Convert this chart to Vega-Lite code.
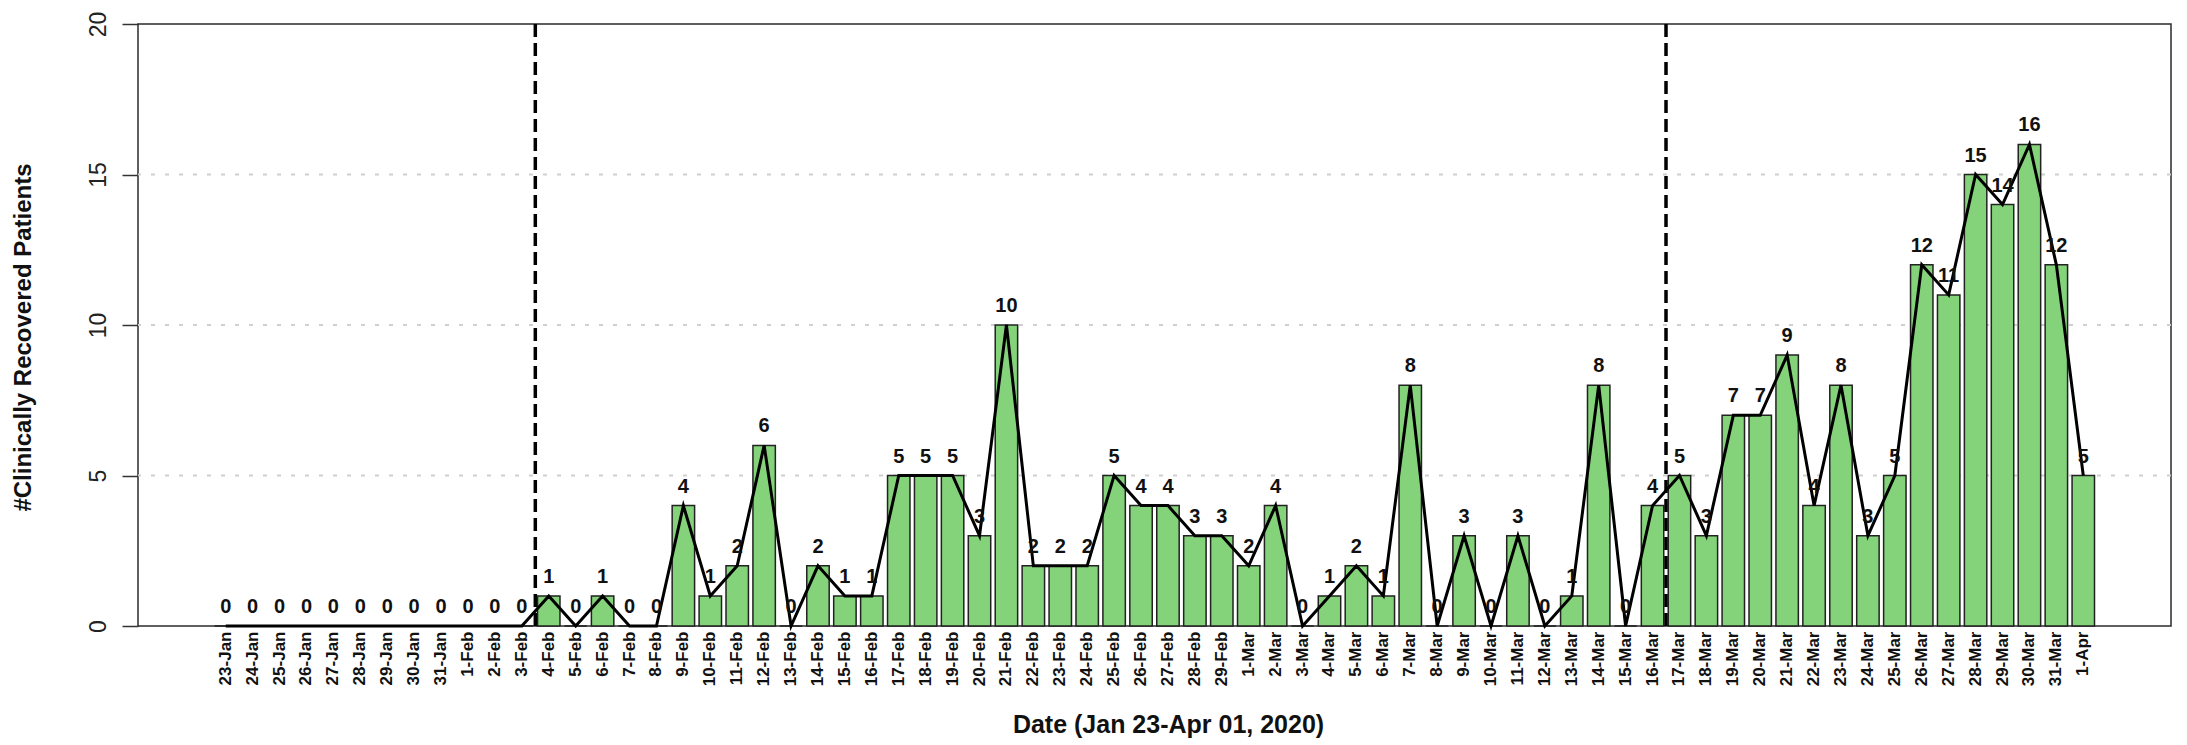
{
  "$schema": "https://vega.github.io/schema/vega-lite/v6.json",
  "autosize": "none",
  "padding": {"left": 138, "top": 24, "right": 16, "bottom": 119},
  "width": 2033,
  "height": 602,
  "background": "white",
  "config": {
    "font": "Liberation Sans",
    "view": {"stroke": "#2b2b2b", "strokeWidth": 1.5}
  },
  "datasets": {
    "recovered": [
      {"date": "23-Jan", "value": 0}, {"date": "24-Jan", "value": 0}, {"date": "25-Jan", "value": 0},
      {"date": "26-Jan", "value": 0}, {"date": "27-Jan", "value": 0}, {"date": "28-Jan", "value": 0},
      {"date": "29-Jan", "value": 0}, {"date": "30-Jan", "value": 0}, {"date": "31-Jan", "value": 0},
      {"date": "1-Feb", "value": 0}, {"date": "2-Feb", "value": 0}, {"date": "3-Feb", "value": 0},
      {"date": "4-Feb", "value": 1}, {"date": "5-Feb", "value": 0}, {"date": "6-Feb", "value": 1},
      {"date": "7-Feb", "value": 0}, {"date": "8-Feb", "value": 0}, {"date": "9-Feb", "value": 4},
      {"date": "10-Feb", "value": 1}, {"date": "11-Feb", "value": 2}, {"date": "12-Feb", "value": 6},
      {"date": "13-Feb", "value": 0}, {"date": "14-Feb", "value": 2}, {"date": "15-Feb", "value": 1},
      {"date": "16-Feb", "value": 1}, {"date": "17-Feb", "value": 5}, {"date": "18-Feb", "value": 5},
      {"date": "19-Feb", "value": 5}, {"date": "20-Feb", "value": 3}, {"date": "21-Feb", "value": 10},
      {"date": "22-Feb", "value": 2}, {"date": "23-Feb", "value": 2}, {"date": "24-Feb", "value": 2},
      {"date": "25-Feb", "value": 5}, {"date": "26-Feb", "value": 4}, {"date": "27-Feb", "value": 4},
      {"date": "28-Feb", "value": 3}, {"date": "29-Feb", "value": 3}, {"date": "1-Mar", "value": 2},
      {"date": "2-Mar", "value": 4}, {"date": "3-Mar", "value": 0}, {"date": "4-Mar", "value": 1},
      {"date": "5-Mar", "value": 2}, {"date": "6-Mar", "value": 1}, {"date": "7-Mar", "value": 8},
      {"date": "8-Mar", "value": 0}, {"date": "9-Mar", "value": 3}, {"date": "10-Mar", "value": 0},
      {"date": "11-Mar", "value": 3}, {"date": "12-Mar", "value": 0}, {"date": "13-Mar", "value": 1},
      {"date": "14-Mar", "value": 8}, {"date": "15-Mar", "value": 0}, {"date": "16-Mar", "value": 4},
      {"date": "17-Mar", "value": 5}, {"date": "18-Mar", "value": 3}, {"date": "19-Mar", "value": 7},
      {"date": "20-Mar", "value": 7}, {"date": "21-Mar", "value": 9}, {"date": "22-Mar", "value": 4},
      {"date": "23-Mar", "value": 8}, {"date": "24-Mar", "value": 3}, {"date": "25-Mar", "value": 5},
      {"date": "26-Mar", "value": 12}, {"date": "27-Mar", "value": 11}, {"date": "28-Mar", "value": 15},
      {"date": "29-Mar", "value": 14}, {"date": "30-Mar", "value": 16}, {"date": "31-Mar", "value": 12},
      {"date": "1-Apr", "value": 5}
    ],
    "gridlines": [{"level": 5}, {"level": 10}, {"level": 15}]
  },
  "layer": [
    {
      "data": {"name": "gridlines"},
      "mark": {"type": "rule", "color": "#cfcfcf", "strokeWidth": 2, "strokeDash": [4, 10]},
      "encoding": {
        "y": {"field": "level", "type": "quantitative"}
      }
    },
    {
      "data": {"name": "recovered"},
      "mark": {"type": "bar", "fill": "#84D27A", "stroke": "#222222", "strokeWidth": 1.5},
      "encoding": {
        "x": {
          "field": "date",
          "type": "nominal",
          "sort": null,
          "scale": {"paddingInner": 0.1667, "paddingOuter": 0, "range": [76.5, 1956.5]},
          "axis": {
            "title": "Date (Jan 23-Apr 01, 2020)",
            "labelAngle": -90,
            "labelAlign": "right",
            "labelBaseline": "middle",
            "labelFontSize": 17,
            "labelFontWeight": "bold",
            "labelColor": "#111111",
            "labelPadding": 5,
            "labelOverlap": false,
            "ticks": false,
            "domain": false,
            "grid": false,
            "titleFontSize": 25,
            "titleFontWeight": "bold",
            "titleColor": "#111111",
            "titleX": 1030,
            "titleY": 106,
            "titleAlign": "center",
            "titleBaseline": "alphabetic"
          }
        },
        "y": {
          "field": "value",
          "type": "quantitative",
          "scale": {"domain": [0, 20], "nice": false},
          "axis": {
            "title": "#Clinically Recovered Patients",
            "values": [0, 5, 10, 15, 20],
            "labelAngle": -90,
            "labelAlign": "center",
            "labelBaseline": "alphabetic",
            "labelFontSize": 23,
            "labelColor": "#222222",
            "labelPadding": 16.5,
            "tickSize": 16,
            "tickColor": "#333333",
            "tickWidth": 1.5,
            "domain": false,
            "grid": false,
            "titleFontSize": 24,
            "titleFontWeight": "bold",
            "titleColor": "#111111",
            "titleAngle": -90,
            "titleX": -108,
            "titleY": 313,
            "titleAlign": "center",
            "titleBaseline": "alphabetic"
          }
        }
      }
    },
    {
      "data": {"name": "recovered"},
      "mark": {"type": "line", "color": "#000000", "strokeWidth": 3},
      "encoding": {
        "x": {"field": "date", "type": "nominal", "sort": null},
        "y": {"field": "value", "type": "quantitative"}
      }
    },
    {
      "data": {"name": "recovered"},
      "mark": {"type": "text", "dy": -13, "baseline": "alphabetic", "align": "center", "fontSize": 20, "fontWeight": "bold", "color": "#111111"},
      "encoding": {
        "x": {"field": "date", "type": "nominal", "sort": null},
        "y": {"field": "value", "type": "quantitative"},
        "text": {"field": "value", "type": "quantitative"}
      }
    },
    {
      "data": {"name": "recovered"},
      "transform": [{"filter": "datum.date == '4-Feb' || datum.date == '17-Mar'"}],
      "mark": {"type": "rule", "color": "#000000", "strokeWidth": 3.5, "strokeDash": [13, 6], "xOffset": -13.46},
      "encoding": {
        "x": {"field": "date", "type": "nominal", "sort": null}
      }
    }
  ]
}
